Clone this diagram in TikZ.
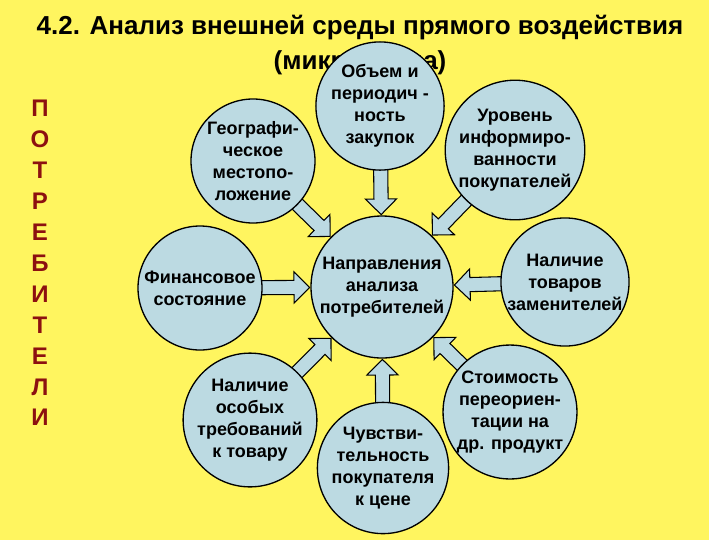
\documentclass[tikz,border=0pt]{standalone}
\usepackage{fontspec}
\setmainfont{Liberation Sans}
\definecolor{slide}{RGB}{255,245,95}
\definecolor{bubble}{RGB}{188,218,226}
\definecolor{darkred}{RGB}{140,16,16}
\usetikzlibrary{arrows,positioning}
\usetikzlibrary{shapes.arrows,calc}
\pgfdeclarelayer{back}
\pgfsetlayers{back,main}
\tikzset{
	factor/.style={circle, draw, line width=1pt, fill=bubble, minimum size=93pt, inner sep=0pt, align=center, font=\fontsize{13.5}{16.5}\selectfont\bfseries},
	hub/.style={factor, minimum size=106.5pt},
	feedarrow/.style={single arrow, draw, line width=0.8pt, fill=bubble, inner xsep=0pt, inner ysep=4.9pt, single arrow head extend=6.4pt, single arrow tip angle=90}
}
% block arrow from #1 to the border of #2
\newcommand\feed[2]{%
	\path (#1) -- (#2) coordinate[pos=0] (fs) coordinate[pos=1] (fe);
	\begin{pgfonlayer}{back}
	\path let \p1=($(fe)-(fs)$), \n1={veclen(\x1,\y1)+3pt}, \n2={-atan2(\y1,\x1)} in
		node[feedarrow, minimum height=\n1, rotate=\n2, anchor=tip] at (fe) {};
	\end{pgfonlayer}}

\begin{document}
\begin{tikzpicture}[x=0.75pt,y=0.75pt,yscale=-1,xscale=1]
	\begin{pgfonlayer}{back}
	\path[use as bounding box, fill=slide] (0,0) rectangle (709,540);
	\end{pgfonlayer}
	
	% Text Node
	\node[font=\fontsize{19.5}{26}\selectfont\bfseries, align=center] (title) at (360,45) {4.2. Анализ внешней среды прямого воздействия\\(микросреда)};
	% Text Node
	\node[font=\fontsize{18}{23.2}\selectfont\bfseries, align=center, text=darkred] (consumers) at (40,263) {П\\О\\Т\\Р\\Е\\Б\\И\\Т\\Е\\Л\\И};
	
	%Shape: Circles
	\node[hub] (focus) at (382,287) {Направления\\анализа\\потребителей};
	\node[factor] (volume) at (380,106) {Объем и\\периодич -\\ность\\закупок};
	\node[factor] (geo) at (253,161) {Географи-\\ческое\\местопо-\\ложение};
	\node[factor] (aware) at (515,150) {Уровень\\информиро-\\ванности\\покупателей};
	\node[factor] (money) at (200,288) {Финансовое\\состояние};
	\node[factor] (substitutes) at (565,282) {Наличие\\товаров\\заменителей};
	\node[factor] (needs) at (250,420) {Наличие\\особых\\требований\\к товару};
	\node[factor] (price) at (383,468) {Чувстви-\\тельность\\покупателя\\к цене};
	\node[factor] (switch) at (510,412) {Стоимость\\переориен-\\тации на\\др. продукт};
	
	%Block arrows
	\feed{volume}{focus}
	\feed{geo}{focus}
	\feed{aware}{focus}
	\feed{money}{focus}
	\feed{substitutes}{focus}
	\feed{needs}{focus}
	\feed{price}{focus}
	\feed{switch}{focus}
	
\end{tikzpicture}
\end{document}
